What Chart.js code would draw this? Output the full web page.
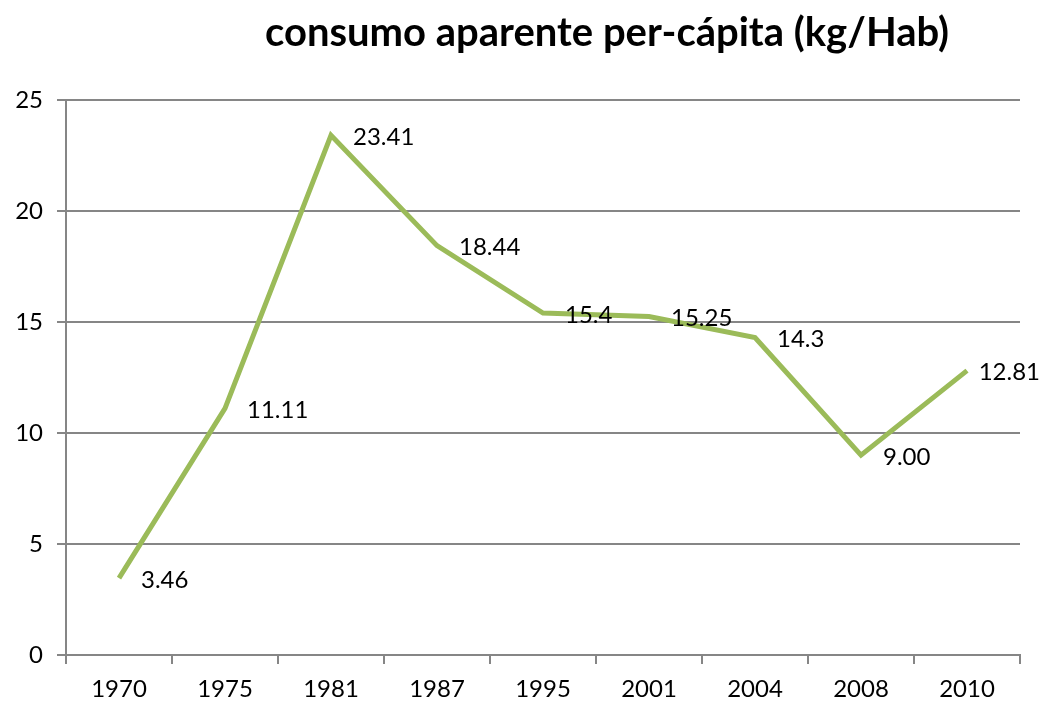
<!DOCTYPE html>
<html>
<head>
<meta charset="utf-8">
<script src="https://cdn.jsdelivr.net/npm/chart.js@4"></script>
<style>
html,body{margin:0;padding:0;background:#fff;}
#wrap{width:1044px;height:702px;position:relative;}
</style>
</head>
<body>
<div id="wrap"><canvas id="c" width="1044" height="702"></canvas></div>
<script>
const titleText = "consumo aparente per-cápita (kg/Hab)";
const categories = ["1970","1975","1981","1987","1995","2001","2004","2008","2010"];
const values = [3.46, 11.11, 23.41, 18.44, 15.4, 15.25, 14.3, 9.00, 12.81];
const valueLabels = ["3.46","11.11","23.41","18.44","15.4","15.25","14.3","9.00","12.81"];
const yTicks = [0,5,10,15,20,25];

const FONT = "Lato, 'Open Sans', sans-serif";

const titlePlugin = {
  id: 'customTitle',
  afterDraw(chart) {
    const ctx = chart.ctx;
    ctx.save();
    ctx.font = "bold 40px " + FONT;
    ctx.fillStyle = "#000";
    ctx.textAlign = "center";
    ctx.textBaseline = "middle";
    const cx = (chart.chartArea.left + chart.chartArea.right) / 2 + 64;
    ctx.fillText(titleText, cx, 33);
    ctx.restore();
  }
};

const labelPlugin = {
  id: 'valueLabels',
  afterDatasetsDraw(chart) {
    const ctx = chart.ctx;
    const meta = chart.getDatasetMeta(0);
    ctx.save();
    ctx.font = "24px " + FONT;
    ctx.fillStyle = "#000";
    ctx.textAlign = "left";
    ctx.textBaseline = "middle";
    meta.data.forEach((pt, i) => {
      const w = ctx.measureText(valueLabels[i]).width;
      let x = pt.x + 22;
      if (x + w > chart.width - 4) x = chart.width - 4 - w;
      ctx.fillText(valueLabels[i], x, pt.y + 2);
    });
    ctx.restore();
  }
};

new Chart(document.getElementById('c'), {
  type: 'line',
  data: {
    labels: categories,
    datasets: [{
      data: values,
      borderColor: '#9BBB59',
      borderWidth: 5,
      pointRadius: 0,
      pointHoverRadius: 0,
      tension: 0,
      fill: false
    }]
  },
  options: {
    responsive: false,
    animation: false,
    events: [],
    layout: { padding: { top: 100, right: 24, left: 0, bottom: 0 } },
    plugins: { legend: { display: false }, tooltip: { enabled: false }, title: { display: false } },
    scales: {
      x: {
        type: 'category',
        offset: true,
        grid: {
          offset: true,
          drawOnChartArea: false,
          drawTicks: true,
          tickLength: 9,
          color: '#868686',
          lineWidth: 2
        },
        border: { display: true, color: '#868686', width: 2 },
        ticks: { color: '#000', font: { family: FONT, size: 24 }, padding: 11, maxRotation: 0, autoSkip: false },
        afterFit(scale) { scale.height = 47; }
      },
      y: {
        min: 0,
        max: 25,
        afterBuildTicks(scale) { scale.ticks = yTicks.map(v => ({ value: v })); },
        grid: { color: '#868686', lineWidth: 2, tickLength: 9, drawTicks: true },
        border: { display: true, color: '#868686', width: 2 },
        ticks: { color: '#000', font: { family: FONT, size: 24 }, padding: 14 },
        afterFit(scale) { scale.width = 66; }
      }
    }
  },
  plugins: [titlePlugin, labelPlugin]
});
</script>
</body>
</html>
